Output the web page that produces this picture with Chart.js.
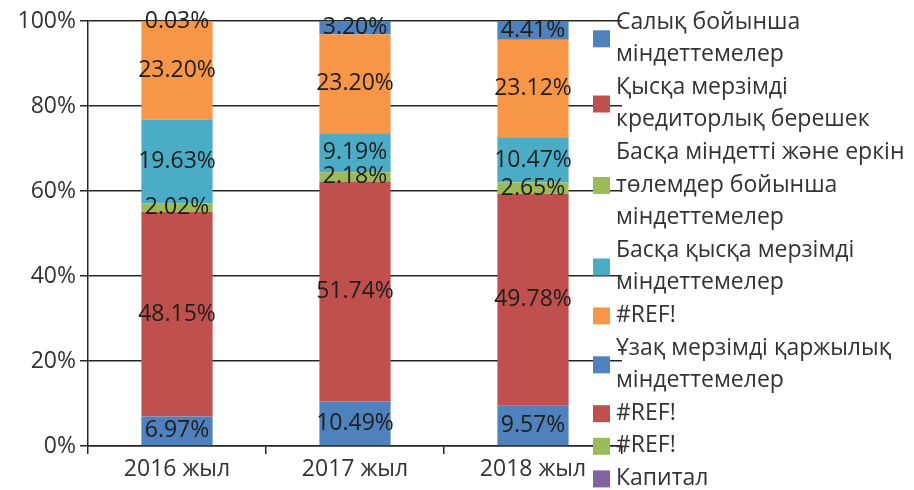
<!DOCTYPE html>
<html lang="kk">
<head>
  <meta charset="UTF-8">
  <title>Міндеттемелер құрылымы</title>
  <style>
    body {
      margin: 0;
      background: #fff;
    }
    #wrap {
      width: 914px;
      height: 490px;
      position: relative;
    }
  </style>
</head>
<body>
  <div id="wrap">
    <canvas id="chart" width="914" height="490"></canvas>
  </div>
  <script src="https://cdn.jsdelivr.net/npm/chart.js"></script>
  <script>
    // categories
    const years = ["2016 жыл", "2017 жыл", "2018 жыл"];

    // series values, % (bottom of stack first)
    const salyk = [6.97, 10.49, 9.57];
    const kredBeresek = [48.15, 51.74, 49.78];
    const mindettiTolem = [2.02, 2.18, 2.65];
    const baskaKyska = [19.63, 9.19, 10.47];
    const ref1 = [23.20, 23.20, 23.12];
    const uzakKarzhy = [0.03, 3.20, 4.41];
    const ref2 = [0, 0, 0];
    const ref3 = [0, 0, 0];
    const kapital = [0, 0, 0];

    // legend names (\n = line break as in the original)
    const names = [
      "Салық бойынша\nміндеттемелер",
      "Қысқа мерзімді\nкредиторлық берешек",
      "Басқа міндетті және еркін\nтөлемдер бойынша\nміндеттемелер",
      "Басқа қысқа мерзімді\nміндеттемелер",
      "#REF!",
      "Ұзақ мерзімді қаржылық\nміндеттемелер",
      "#REF!",
      "#REF!",
      "Капитал"
    ];
    const yTicks = [0, 20, 40, 60, 80, 100];

    const colors = ["#4F81BD", "#C0504D", "#9BBB59", "#4BACC6", "#F79646",
                    "#4F81BD", "#C0504D", "#9BBB59", "#8064A2"];
    const series = [salyk, kredBeresek, mindettiTolem, baskaKyska, ref1,
                    uzakKarzhy, ref2, ref3, kapital];

    const FONT = "'Open Sans', 'Noto Sans', sans-serif";

    // value labels in the middle of each segment
    const segmentLabels = {
      id: "segmentLabels",
      afterDatasetsDraw(chart) {
        const ctx = chart.ctx;
        ctx.save();
        ctx.font = "23px " + FONT;
        ctx.fillStyle = "#1e1e1e";
        ctx.textAlign = "center";
        ctx.textBaseline = "middle";
        chart.data.datasets.forEach((ds, i) => {
          const meta = chart.getDatasetMeta(i);
          meta.data.forEach((bar, j) => {
            const v = ds.data[j];
            if (!v) return;
            const yMid = (bar.y + bar.base) / 2;
            ctx.fillText(v.toFixed(2) + "%", bar.x, yMid);
          });
        });
        ctx.restore();
      }
    };

    // legend drawn on the right, over the grid like the original
    const sideLegend = {
      id: "sideLegend",
      afterDraw(chart) {
        const ctx = chart.ctx;
        const lineH = 32.6;
        let y = 22;
        ctx.save();
        ctx.font = "23px " + FONT;
        ctx.textBaseline = "middle";
        ctx.textAlign = "left";
        names.forEach((name, i) => {
          const lines = name.split("\n");
          const mid = y + (lines.length - 1) * lineH / 2;
          ctx.fillStyle = colors[i];
          ctx.fillRect(593, mid - 8, 17, 17);
          ctx.fillStyle = "#333";
          lines.forEach((ln, k) => {
            ctx.fillText(ln, 616, y + k * lineH);
          });
          y += lines.length * lineH;
        });
        ctx.restore();
      }
    };

    const ctx = document.getElementById("chart").getContext("2d");
    new Chart(ctx, {
      type: "bar",
      data: {
        labels: years,
        datasets: series.map((d, i) => ({
          label: names[i].replace(/\n/g, " "),
          data: d,
          backgroundColor: colors[i],
          borderWidth: 0,
          categoryPercentage: 1,
          barPercentage: 0.4
        }))
      },
      options: {
        responsive: false,
        animation: false,
        layout: {
          padding: { left: 0, top: 21, right: 292, bottom: 0 }
        },
        plugins: {
          legend: { display: false },
          tooltip: { enabled: false }
        },
        scales: {
          x: {
            stacked: true,
            grid: {
              drawOnChartArea: false,
              drawTicks: true,
              tickLength: 8,
              color: "#262626",
              lineWidth: 1.5
            },
            border: { color: "#262626", width: 1.5 },
            ticks: {
              color: "#333",
              padding: 2,
              font: { family: FONT, size: 23 }
            },
            afterFit(scale) { scale.height = 44; }
          },
          y: {
            stacked: true,
            min: 0,
            max: 100,
            afterBuildTicks(scale) {
              scale.ticks = yTicks.map(v => ({ value: v }));
            },
            grid: {
              color: "#262626",
              lineWidth: 1.5,
              tickLength: 8
            },
            border: { color: "#262626", width: 1.5 },
            ticks: {
              color: "#333",
              padding: 4,
              font: { family: FONT, size: 23 },
              callback: v => v + "%"
            },
            afterFit(scale) { scale.width = 88; }
          }
        }
      },
      plugins: [segmentLabels, sideLegend]
    });
  </script>
</body>
</html>
